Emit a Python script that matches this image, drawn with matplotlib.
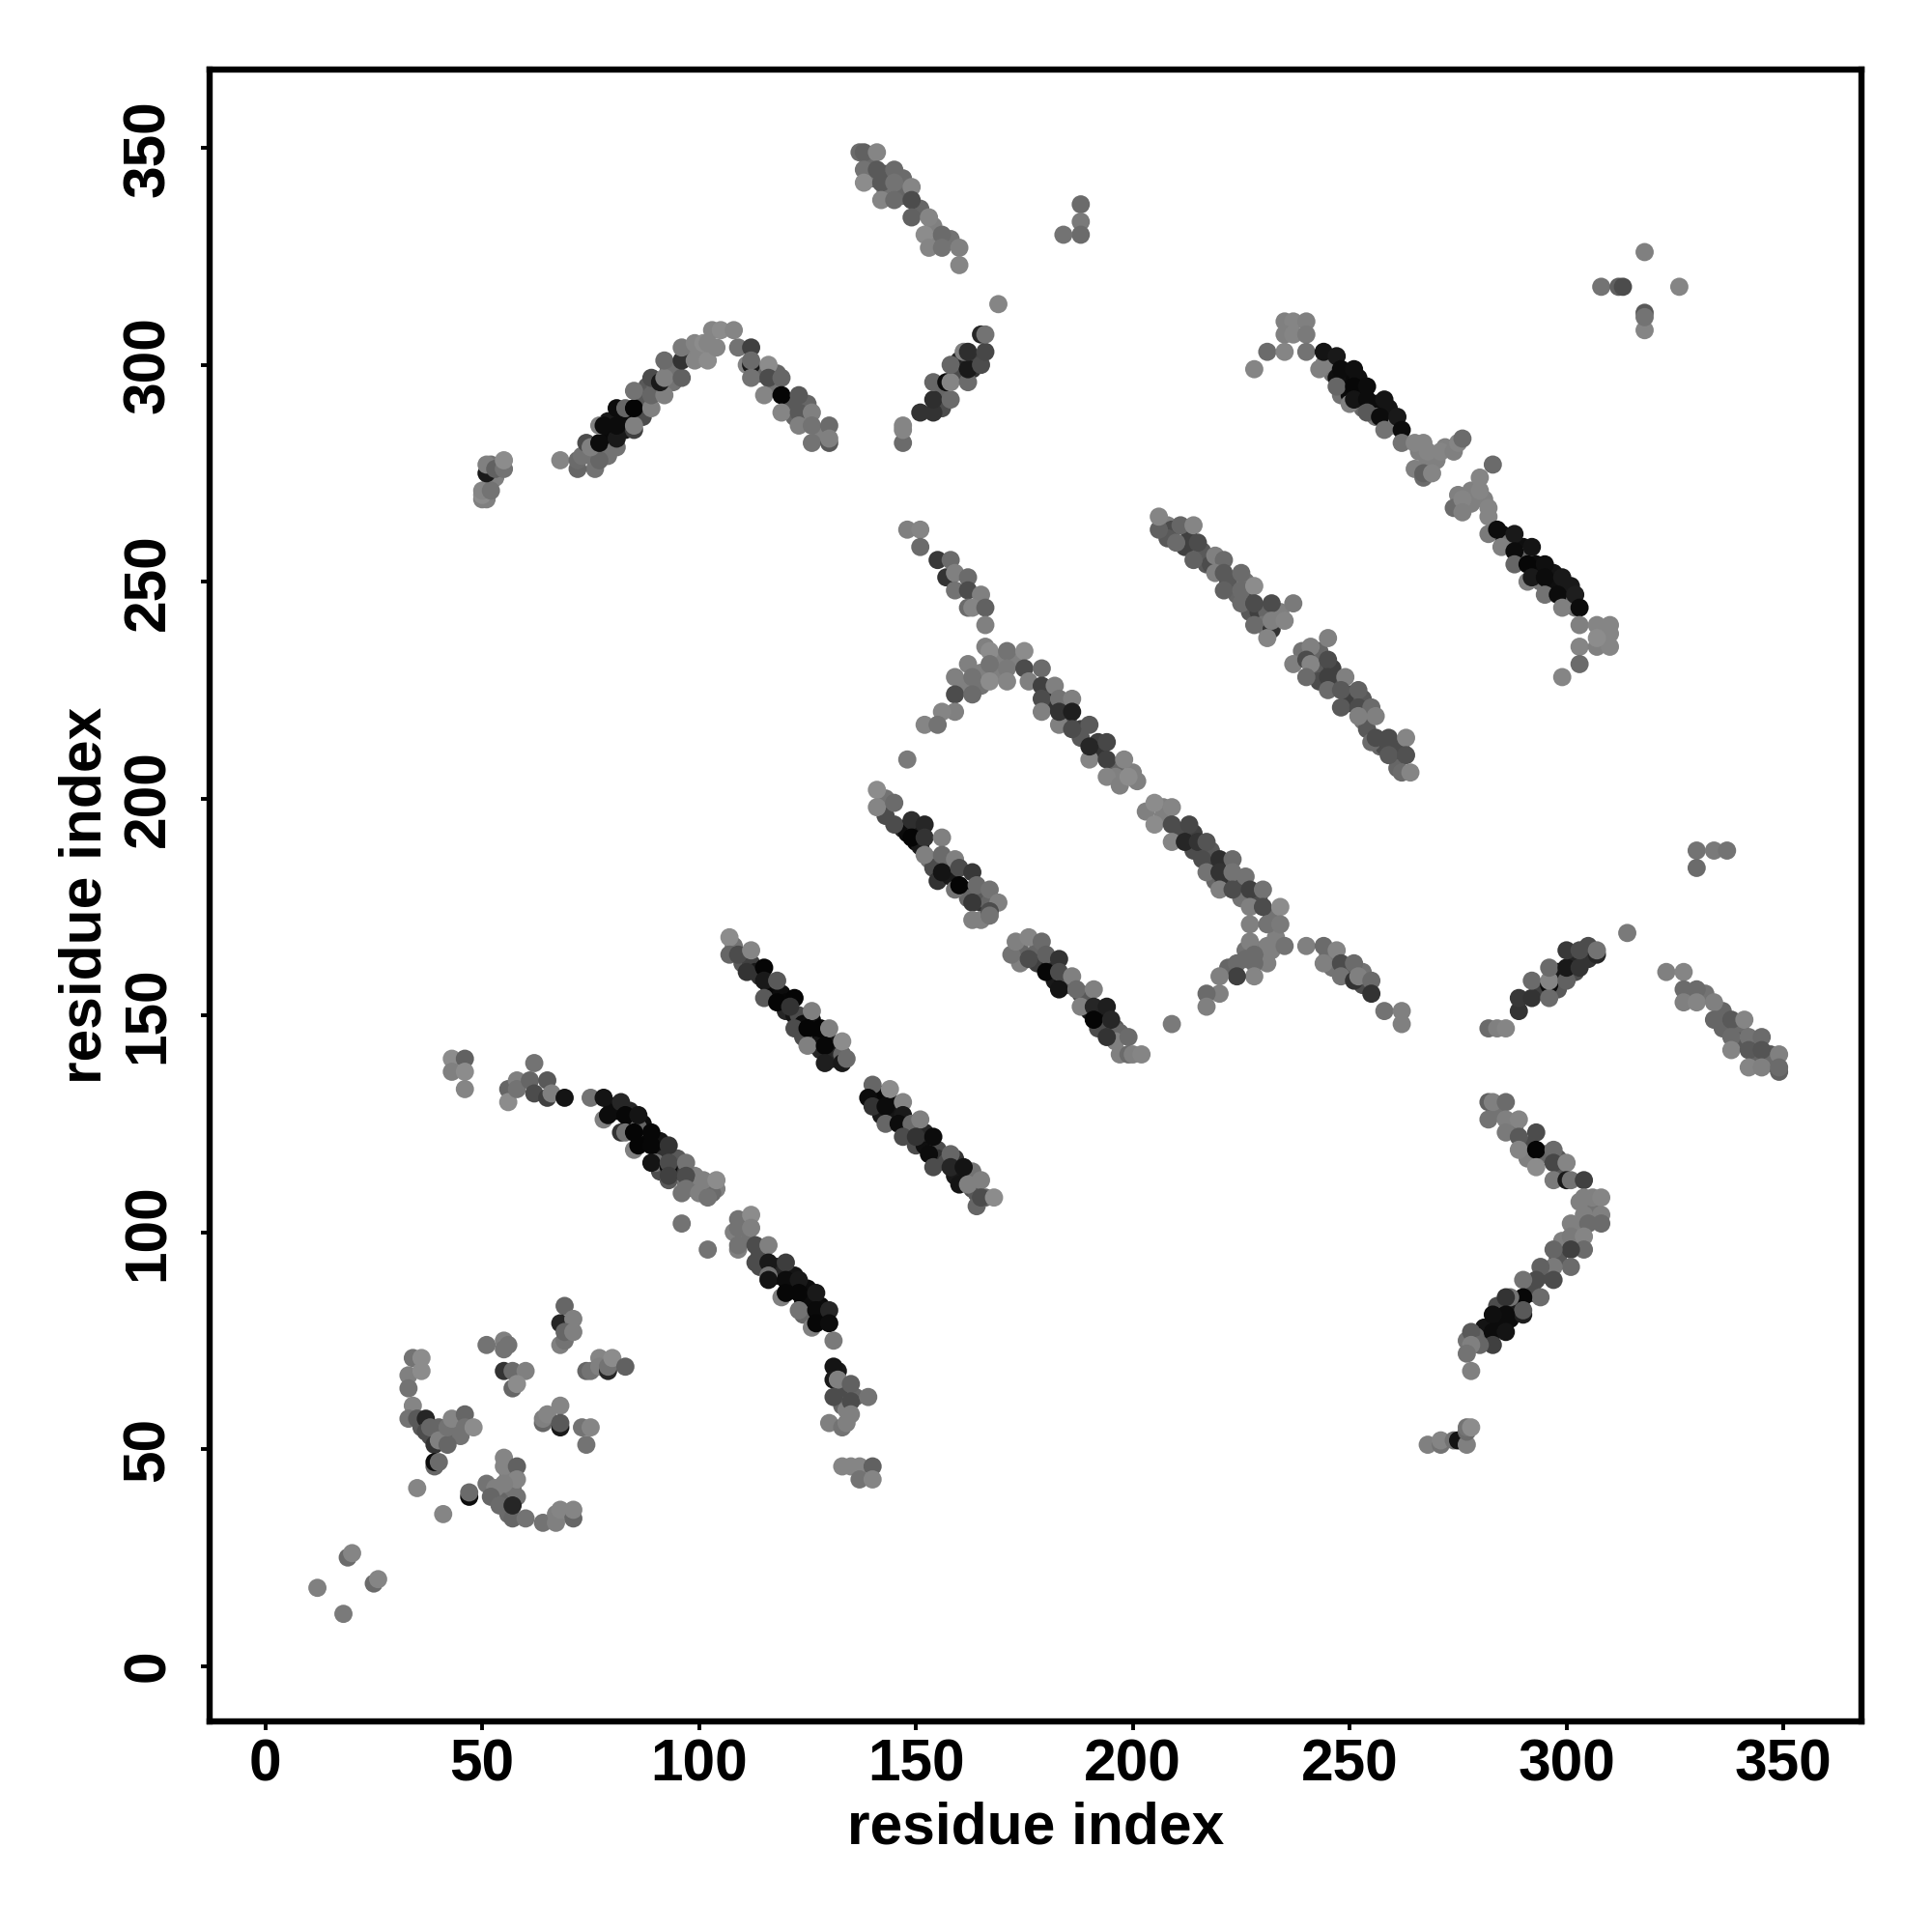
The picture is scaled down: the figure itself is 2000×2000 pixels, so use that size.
import matplotlib
matplotlib.use('Agg')
import matplotlib.pyplot as plt

# (residue i, residue j, grey level), one list per group of contacts
corner = [(12,18,.5),(18,12,.48),(19,25,.42),(20,26,.52),(25,19,.42),(26,20,.52),(35,41,.52),(41,35,.52),
          (47,39,.05),(47,40,.42),(51,42,.45),(53,41,.5),(55,48,.52),(55,46,.52),(58,46,.38),(58,43,.52),
          (55,42,.5),(52,39,.4),(54,37,.42),(56,35,.42),(57,34,.4),(57,37,.15),(60,34,.45),(64,33,.45),
          (67,33,.5),(67,35,.5),(68,36,.52),(71,34,.4),(71,36,.52)]
left_block = [(34,71,.45),(36,71,.55),(33,67,.5),(36,68,.55),(33,64,.45),(34,60,.52),(33,57,.45),(35,57,.35),
              (37,57,.15),(37,54,.3),(38,55,.4),(39,51,.2),(40,52,.5),(42,51,.4),(42,55,.45),(43,57,.52),
              (46,58,.4),(46,55,.45),(48,55,.55),(39,46,.4),(39,47,.05),(40,47,.42)]
mid_block = [(51,74,.45),(55,75,.5),(55,73,.45),(56,74,.45),(55,68,.2),(57,64,.4),(57,68,.42),(60,68,.5),
             (58,65,.55),(69,83,.4),(68,79,.15),(71,80,.5),(68,74,.5),(69,75,.45),(69,77,.4),(71,77,.5),
             (74,68,.4),(75,68,.45),(77,71,.52),(77,69,.5),(79,68,.15),(79,69,.45),(80,71,.55),(83,69,.38),
             (64,56,.4),(64,57,.5),(65,58,.52),(68,60,.52),(68,55,.1),(68,56,.35),(73,55,.45),(75,55,.52),(74,51,.45)]
arc_upper = [(43,140,.55),(46,140,.38),(43,137,.5),(46,137,.55),(46,133,.52),(56,133,.4),(56,130,.55),(58,135,.5),
             (58,133,.45),(62,139,.45),(61,135,.4),(62,132,.3),(65,135,.35),(65,131,.25),(66,132,.5),(69,131,.08),
             (75,131,.45),(78,131,.08),(82,130,.15),(78,126,.5),(79,127,.05),(83,127,.03),(86,127,.08),(82,123,.2),
             (83,123,.45),(85,123,.02),(89,123,.03),(85,119,.5),(86,120,.02),(89,120,.03),(93,120,.2),(90,116,.45),
             (89,116,.08),(93,115,.05),(93,116,.3),(97,116,.45),(93,112,.35),(93,113,.25),(97,113,.3),(97,110,.45),
             (96,109,.45),(100,109,.5),(103,109,.42),(102,108,.45),(101,112,.5),(104,112,.55),(96,102,.45),(102,96,.45)]
arc_lower = [(109,103,.45),(112,104,.55),(108,100,.5),(109,101,.45),(112,101,.5),(109,96,.5),(109,97,.45),(113,97,.3),
             (116,97,.5),(113,93,.3),(116,93,.1),(120,93,.24),(116,90,.45),(116,89,.08),(119,85,.5),(120,89,.05),
             (123,89,.1),(120,86,.03),(123,86,.03),(127,86,.1),(123,82,.45),(127,82,.04),(130,82,.15),(126,78,.5),
             (127,79,.03),(130,79,.05),(131,75,.48),(131,69,.08),(131,66,.1),(132,66,.5),(131,62,.3),(135,65,.38),
             (135,61,.3),(139,62,.45),(135,58,.5),(130,56,.5),(133,55,.45),(134,56,.5),(133,46,.52),(135,46,.52),
             (137,46,.52),(137,43,.45),(140,46,.38),(140,43,.52)]
helix_a = [(107,168,.55),(107,164,.4),(109,164,.3),(112,165,.52),(111,160,.2),(115,161,.02),(115,158,.1),(118,158,.35),
           (115,154,.35),(118,153,.02),(122,154,.02),(121,152,.2),(126,151,.5),(122,147,.3),(125,147,.02),(128,147,.02),
           (130,147,.5),(125,143,.5),(129,143,.03),(133,144,.55),(129,139,.12),(133,139,.1),(134,140,.42)]
helix_b = [(140,134,.4),(144,133,.55),(139,131,.05),(140,129,.2),(143,129,.05),(147,130,.52),(143,125,.4),(147,127,.1),
           (146,125,.05),(149,125,.42),(151,126,.5),(147,122,.3),(150,122,.2),(154,122,.05),(153,118,.05),(158,118,.4),
           (154,115,.3),(158,115,.15),(161,115,.08),(160,111,.08),(162,111,.5),(165,112,.5),(164,106,.4),(165,108,.3),(168,108,.55)]
hairpin_a = [(50,269,.5),(51,269,.5),(50,270,.55),(50,271,.52),(52,271,.45),(51,275,.1),(51,277,.5),(53,276,.38),(55,276,.45),(55,278,.55),
             (68,278,.52),(72,276,.4),(72,278,.42),(73,279,.45),(77,278,.4),(74,282,.3),(75,281,.5),(77,282,.05),(81,281,.45),
             (81,283,.1),(77,286,.5),(78,286,.05),(81,286,.05),(85,285,.25),(85,286,.5),(81,290,.05),(83,290,.4),(85,290,.02),
             (89,290,.5),(85,294,.45),(89,293,.4),(92,293,.5),(89,297,.3),(91,296,.1),(92,297,.5),(96,297,.38),(92,301,.42),
             (96,301,.2),(96,304,.48),(99,301,.52),(102,301,.55),(99,305,.52),(101,305,.55),(102,305,.52),(104,304,.52),
             (103,308,.52),(105,308,.55),(108,308,.52),(109,304,.45),(112,304,.25),(111,300,.52),(112,300,.1),(112,301,.42),
             (112,297,.45),(116,300,.55),(116,297,.3),(119,297,.4),(115,293,.52),(119,293,.02),(123,293,.35),(119,289,.52),
             (123,289,.35),(126,289,.5),(123,286,.5),(126,286,.45),(130,286,.42),(126,282,.45),(130,282,.35),(130,283,.5)]
hairpin_b = [(147,282,.42),(147,285,.52),(147,286,.52),(151,289,.2),(154,289,.2),(154,292,.18),(154,296,.4),(158,292,.42),
             (157,296,.05),(158,296,.52),(162,296,.42),(158,300,.4),(162,299,.1),(165,300,.3),(161,303,.5),(162,303,.18),
             (166,303,.28),(165,307,.15),(166,307,.45),(169,314,.52)]
top_strand = [(137,349,.42),(138,349,.38),(141,349,.52),(138,345,.45),(138,342,.55),(141,345,.35),(142,342,.35),(145,345,.42),
              (145,342,.45),(142,338,.52),(145,338,.42),(149,341,.52),(149,338,.3),(149,334,.38),(153,334,.52),(152,330,.55),
              (156,330,.42),(153,327,.52),(156,327,.45),(160,327,.5),(160,323,.52)]
top_spots = [(188,337,.42),(188,333,.48),(188,330,.42),(184,330,.45),(318,326,.5),(308,318,.45),(312,318,.38),(313,318,.3),
             (326,318,.52),(318,312,.35),(318,308,.52),(318,311,.45),(330,188,.45),(334,188,.48),(337,188,.45),(330,184,.42),
             (314,169,.48),(209,148,.48),(148,209,.48)]
short_strand = [(148,262,.5),(151,262,.52),(151,258,.42),(155,255,.22),(158,255,.42),(157,251,.2),(159,252,.5),(162,251,.42),
                (159,248,.45),(162,248,.3),(165,247,.5),(162,244,.42),(163,244,.52),(166,244,.38),(166,240,.5)]
t_upper = [(166,235,.5),(167,234,.55),(171,234,.45),(175,234,.55),(171,230,.48),(167,231,.45),(162,231,.5),(159,228,.5),
           (163,228,.45),(167,227,.55),(171,227,.52),(159,224,.3),(163,224,.42),(159,220,.5),(156,220,.52),(152,217,.52),
           (155,217,.45),(175,230,.3),(179,230,.42),(176,227,.5),(179,226,.25),(179,223,.3),(179,220,.5),(182,226,.5),
           (183,223,.45),(186,223,.5),(183,217,.5),(183,220,.2),(186,220,.12),(186,216,.3),(190,217,.35),(190,209,.52),
           (190,212,.15),(194,213,.28),(194,209,.25),(198,209,.52),(194,205,.52),(197,203,.5),(199,205,.55)]
helix_c = [(141,202,.55),(141,198,.52),(145,199,.42),(145,194,.3),(149,195,.18),(152,194,.15),(149,191,.02),(152,191,.2),
           (156,191,.5),(152,187,.5),(156,187,.42),(156,183,.08),(159,186,.5),(160,184,.3),(163,183,.22),(159,179,.45),
           (160,180,.02),(164,180,.42),(167,179,.45),(163,176,.22),(169,176,.5),(163,172,.5),(165,172,.5),(167,174,.3),(167,173,.45)]
helix_d = [(172,164,.45),(173,167,.5),(176,168,.52),(179,167,.42),(176,163,.3),(180,164,.38),(183,163,.2),(180,160,.03),
           (183,160,.3),(186,159,.5),(183,156,.08),(187,156,.42),(191,156,.5),(188,152,.5),(191,152,.15),(194,152,.12),
           (191,149,.02),(195,149,.15),(194,145,.2),(199,145,.42),(197,141,.5),(199,141,.42),(200,141,.5),(202,141,.52)]
t_lower = [(203,197,.5),(205,199,.55),(205,194,.55),(209,198,.52),(209,194,.3),(213,194,.28),(209,190,.52),(212,190,.15),
           (215,190,.2),(217,190,.33),(216,186,.3),(220,186,.18),(217,183,.45),(220,183,.2),(223,186,.42),(223,183,.45),
           (226,182,.45),(220,179,.5),(223,179,.3),(227,179,.25),(230,179,.45),(227,175,.5),(230,175,.3),(234,175,.55),
           (227,171,.5),(231,171,.45),(234,171,.48),(227,167,.5),(231,166,.5),(235,166,.45),(231,162,.5),(228,164,.42),
           (228,162,.42),(224,162,.42),(228,159,.52),(224,159,.25),(220,159,.5),(220,155,.5),(217,155,.42),(217,152,.5)]
tail_a = [(240,166,.5),(244,166,.42),(247,165,.52),(244,162,.5),(248,162,.3),(251,162,.42),(248,159,.45),(251,158,.2),
          (252,159,.5),(255,158,.42),(255,155,.2),(258,151,.45),(262,151,.5),(262,148,.5)]
tail_b = [(282,147,.42),(284,147,.5),(286,147,.52),(289,151,.2),(289,154,.22),(292,154,.2),(292,158,.42),(296,157,.05),
          (296,154,.42),(296,158,.52),(300,158,.38),(296,161,.42),(300,161,.1),(303,161,.2),(300,165,.22),(303,165,.3),
          (307,164,.15),(307,165,.45)]
tail_c = [(323,160,.5),(327,160,.52),(327,156,.42),(330,156,.42),(327,153,.5),(330,153,.52),(334,153,.5),(334,149,.4),
          (338,149,.35),(341,149,.52),(338,145,.42),(342,145,.45),(345,145,.42),(338,142,.52),(342,142,.35),(345,142,.33),
          (349,141,.5),(342,138,.52),(345,138,.5),(349,137,.38),(349,138,.42)]
helix_e = [(206,262,.38),(206,265,.52),(211,263,.4),(214,263,.52),(210,259,.42),(215,259,.3),(214,255,.38),(219,256,.5),
           (221,255,.42),(219,252,.5),(221,252,.35),(225,252,.42),(221,248,.38),(225,248,.42),(228,249,.55),(225,245,.42),
           (228,245,.3),(232,245,.3),(237,245,.48),(228,240,.42),(232,239,.2),(232,241,.5),(235,241,.52),(231,237,.52)]
helix_f = [(245,237,.5),(241,235,.5),(237,231,.5),(240,232,.3),(241,231,.52),(240,228,.42),(245,232,.3),(245,228,.25),
           (245,225,.42),(249,228,.5),(248,225,.35),(252,225,.38),(248,221,.35),(252,221,.3),(255,221,.42),(256,219,.5),
           (252,219,.5),(255,213,.42),(256,214,.3),(259,214,.3),(263,214,.52),(259,210,.35),(263,210,.32),(262,206,.42),(264,206,.52)]
helix_g = [(235,310,.5),(237,310,.52),(240,310,.5),(235,307,.5),(237,307,.52),(240,307,.48),(231,303,.42),(235,303,.52),
           (228,299,.52),(240,303,.45),(243,299,.5),(244,303,.08),(247,302,.1),(248,299,.05),(251,299,.06),(247,295,.4),
           (251,295,.03),(254,295,.05),(250,291,.5),(251,292,.08),(254,292,.05),(258,292,.08),(254,289,.35),(257,288,.05),
           (261,288,.1),(258,285,.45),(262,285,.05),(262,282,.45)]
link = [(265,282,.52),(267,282,.52),(268,280,.52),(271,280,.52),(274,280,.5),(275,282,.52),(276,283,.42),(265,276,.5),
        (267,274,.42),(267,275,.38),(269,275,.52),(283,277,.42),(280,274,.52),(280,271,.52),(274,267,.42),(276,269,.52),
        (276,266,.5),(282,267,.52),(282,265,.52),(282,261,.48)]
helix_h = [(284,262,.05),(285,258,.5),(288,261,.1),(288,257,.05),(292,258,.08),(288,254,.4),(291,254,.03),(295,254,.06),
           (291,250,.5),(292,251,.1),(295,251,.05),(299,251,.1),(295,247,.45),(298,247,.05),(302,247,.12),(299,244,.5),
           (303,244,.05),(303,240,.5),(307,240,.52),(310,240,.52),(303,235,.52),(307,235,.5),(310,235,.52),(310,238,.52),
           (307,237,.55),(303,231,.42),(299,228,.52)]
chevron = [(282,130,.38),(283,130,.5),(286,130,.42),(282,126,.45),(286,126,.5),(286,123,.48),(289,126,.52),(289,122,.35),
           (293,123,.3),(289,119,.52),(293,119,.02),(297,119,.42),(293,115,.55),(297,116,.28),(300,116,.52),(297,112,.48),
           (300,112,.1),(301,112,.45),(304,112,.25),(304,108,.5),(308,108,.52),(308,104,.5),(304,104,.5),(308,102,.42),
           (301,102,.5),(305,102,.42),(301,99,.48),(304,99,.52),(304,96,.42),(301,96,.25),(297,96,.4),(301,92,.42),
           (297,92,.48),(294,92,.38),(297,89,.3),(293,89,.3),(294,85,.42),(290,89,.45),(290,85,.03),(287,85,.45),
           (290,81,.12),(286,85,.2),(290,82,.35),(286,81,.05),(283,81,.06),(283,77,.05),(286,77,.08),(283,74,.25),
           (278,77,.35),(280,74,.4),(278,74,.5),(277,72,.45),(278,68,.5)]
chevron_foot = [(268,51,.5),(271,51,.45),(271,52,.52),(274,52,.45),(275,52,.08),(277,51,.5),(277,54,.42),(277,55,.45),(278,55,.55)]

# contacts mostly hidden under the ones above, they widen the bands
under_g = [(245,300,.06),(246,298,.45),(248,296,.5),(249,297,.05),(250,296,.04),(252,294,.03),(252,297,.06),(253,293,.04),
           (255,290,.06),(256,291,.05),(256,288,.45),(258,288,.06),(259,290,.08),(259,286,.04),(260,286,.5),(244,300,.5),
           (247,297,.06),(248,293,.45),(250,293,.04),(253,290,.4)]
under_h = [(285,261,.06),(286,259,.05),(287,259,.45),(289,257,.04),(290,258,.06),(290,255,.05),(291,256,.4),(293,254,.05),
           (293,252,.04),(294,250,.45),(296,250,.04),(297,249,.05),(297,252,.08),(298,249,.06),(300,248,.08),(300,245,.05),
           (301,245,.4),(301,249,.1),(302,244,.45)]
under_a = [(108,166,.45),(110,162,.35),(112,162,.25),(113,160,.1),(114,159,.2),(116,157,.05),(117,155,.03),(119,155,.05),
           (120,153,.03),(120,151,.15),(122,150,.08),(123,150,.3),(124,148,.05),(126,149,.06),(127,145,.03),(127,143,.08),
           (128,142,.15),(130,144,.08),(131,142,.1),(131,140,.15),(133,141,.4),(124,145,.3)]
under_b = [(141,132,.1),(142,131,.03),(144,130,.05),(142,127,.1),(145,128,.08),(145,126,.08),(148,124,.3),(149,122,.2),
           (150,120,.3),(152,120,.06),(152,123,.15),(155,119,.3),(155,117,.2),(157,116,.3),(159,117,.2),(159,113,.1),
           (161,113,.1),(163,110,.3),(164,109,.35),(166,108,.4),(163,114,.45)]
under_arc = [(80,129,.06),(81,128,.05),(84,125,.04),(84,128,.15),(87,125,.05),(87,122,.02),(88,121,.03),(86,124,.4),
             (91,118,.08),(91,121,.08),(92,117,.2),(95,114,.25),(95,117,.35),(91,114,.3),(97,111,.45),(99,110,.45),
             (99,113,.5),(101,110,.52),(104,110,.5),(111,99,.5),(110,99,.45),(114,95,.3),(115,96,.3),(117,92,.08),
             (118,92,.1),(118,90,.05),(119,92,.15),(121,88,.03),(122,90,.08),(122,87,.03),(124,84,.04),(125,85,.06),
             (125,87,.05),(125,83,.05),(128,83,.05),(128,81,.03),(129,80,.05),(127,80,.05),(124,81,.4),(114,92,.3),
             (132,68,.1),(133,64,.3),(133,60,.4),(134,59,.5),(136,62,.4)]
under_chevron = [(284,79,.04),(285,79,.05),(284,83,.3),(288,82,.05),(288,84,.1),(287,80,.05),(281,76,.3),(281,78,.08),
                 (279,76,.4),(277,75,.45),(292,86,.1),(292,87,.3),(295,91,.4),(296,90,.3),(298,94,.35),(299,98,.5),
                 (303,101,.5),(306,103,.48),(306,105,.45),(303,107,.5),(306,108,.5),(299,113,.35),(298,117,.35),(295,118,.4),
                 (291,120,.3),(288,124,.45),(284,128,.45),(291,117,.5)]
under_hairpin = [(79,284,.05),(79,287,.1),(80,283,.04),(83,288,.05),(83,285,.1),(87,291,.06),(87,288,.3),(87,292,.35),
                 (88,295,.35),(90,295,.4),(93,299,.45),(94,299,.45),(94,296,.45),(97,303,.5),(98,302,.5),(100,303,.52),
                 (114,298,.4),(117,295,.45),(118,298,.4),(121,291,.35),(122,288,.4),(125,291,.4),(128,284,.5),(75,279,.45),
                 (79,279,.45),(76,276,.45),(53,274,.5),(52,273,.5),(52,277,.45),(156,294,.4),(160,298,.3),(160,301,.15),
                 (164,301,.25),(163,299,.2),(156,290,.3)]
under_c = [(143,196,.3),(147,193,.15),(148,192,.05),(150,193,.1),(150,190,.03),(151,189,.1),(153,186,.45),(154,184,.3),
           (155,181,.2),(158,182,.1),(158,185,.4),(161,179,.05),(162,177,.4),(165,176,.2),(165,177,.35),(167,176,.4),(143,200,.45)]
under_d = [(174,165,.4),(178,165,.4),(178,162,.25),(181,162,.15),(182,158,.1),(184,158,.05),(185,157,.35),(188,155,.3),
           (189,154,.35),(190,151,.1),(192,150,.03),(193,150,.05),(193,147,.08),(196,147,.35),(197,146,.4),(196,144,.5),
           (192,147,.3),(174,162,.5)]
under_e = [(208,263,.5),(209,262,.3),(212,258,.25),(213,260,.25),(216,257,.35),(217,254,.35),(218,254,.3),(222,250,.3),
           (223,250,.35),(224,247,.4),(226,247,.3),(227,243,.35),(229,243,.25),(230,242,.25),(231,243,.4),(230,240,.45),
           (234,243,.5),(226,250,.45),(208,260,.35)]
under_f = [(239,234,.45),(243,234,.4),(243,230,.35),(243,227,.3),(246,230,.25),(247,226,.3),(250,224,.3),(250,222,.25),
           (253,223,.35),(253,218,.45),(254,216,.35),(257,212,.4),(258,212,.3),(260,212,.3),(261,209,.3),(262,211,.3),(261,207,.4)]
under_t = [(161,226,.5),(165,226,.45),(165,229,.5),(169,232,.5),(169,229,.5),(173,232,.5),(181,224,.3),(181,222,.1),
           (182,222,.2),(185,220,.2),(185,218,.3),(188,216,.25),(188,214,.35),(192,213,.25),(192,211,.2),(196,207,.4),
           (196,205,.5),(201,204,.5),(200,206,.5),(207,196,.5),(207,198,.5),(211,192,.3),(214,192,.25),(214,188,.3),
           (218,185,.25),(218,188,.35),(219,181,.4),(221,181,.25),(222,181,.2),(224,181,.3),(225,177,.45),(229,177,.3),
           (232,173,.45),(226,165,.45),(229,165,.45),(226,163,.42),(230,163,.45),(233,168,.5),(232,165,.5),(222,161,.4)]
under_tails = [(245,164,.45),(246,161,.45),(250,160,.35),(253,157,.3),(253,160,.45),(298,156,.35),(294,156,.25),(302,163,.15),
               (305,163,.2),(305,166,.3),(302,160,.3),(298,160,.1),(329,155,.45),(332,155,.45),(336,151,.4),(336,147,.4),
               (340,147,.42),(340,144,.35),(343,143,.35),(347,141,.35),(344,140,.4),(347,139,.42)]
under_misc = [(139,347,.42),(140,343,.45),(143,344,.35),(143,340,.45),(147,343,.42),(147,339,.4),(151,336,.4),(154,332,.5),
              (154,329,.5),(158,329,.45),(268,278,.5),(266,280,.5),(270,278,.5),(272,281,.5),(278,268,.5),(278,271,.5),
              (275,270,.5),(281,269,.5),(36,55,.35),(38,53,.3),(40,55,.4),(44,56,.5),(45,53,.45),(41,53,.4),(52,41,.4),
              (54,39,.45),(56,39,.4),(55,39,.4),(58,39,.45),(56,44,.5),(57,41,.45),(56,36,.35)]

underGroups = [under_g, under_h, under_a, under_b, under_arc, under_chevron, under_hairpin, under_c, under_d, under_e,
               under_f, under_t, under_tails, under_misc]
groups = [corner, left_block, mid_block, arc_upper, arc_lower, helix_a, helix_b, hairpin_a, hairpin_b, top_strand,
          top_spots, short_strand, t_upper, helix_c, helix_d, t_lower, tail_a, tail_b, tail_c, helix_e, helix_f,
          helix_g, link, helix_h, chevron, chevron_foot]

ticks = [0, 50, 100, 150, 200, 250, 300, 350]
labelText = 'residue index'

plt.rcParams['font.family'] = ['Liberation Sans', 'DejaVu Sans']
plt.rcParams['font.weight'] = 'bold'

fig = plt.figure(figsize=(10, 10), dpi=200)
ax = fig.add_axes([217 / 2000, 1 - 1782 / 2000, (1927 - 217) / 2000, (1782 - 71.5) / 2000])

# Points
for g in underGroups + groups:
    xs = [p[0] for p in g]
    ys = [p[1] for p in g]
    cs = [p[2] for p in g]
    ax.scatter(xs, ys, c=cs, cmap='gray', vmin=0, vmax=1, s=46, linewidths=0, zorder=3)

ax.set_xlim(-12.85, 368)
ax.set_ylim(-12.8, 368.2)

# Axes
for s in ax.spines.values():
    s.set_linewidth(2.3)
ax.set_xticks(ticks)
ax.set_yticks(ticks)
ax.tick_params(axis='both', length=3.2, width=1.4, labelsize=21.8)
ax.tick_params(axis='x', pad=3)
ax.tick_params(axis='y', pad=9)
for t in ax.get_yticklabels():
    t.set_rotation(90)
    t.set_verticalalignment('center')
ax.set_xlabel(labelText, fontsize=21.8, fontweight='bold', labelpad=3)
ax.set_ylabel(labelText, fontsize=21.8, fontweight='bold', labelpad=3)

fig.savefig('out.png', dpi=200, facecolor='white')
